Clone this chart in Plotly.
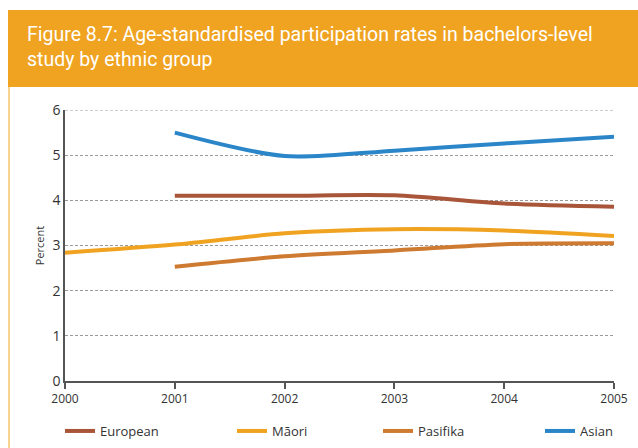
import plotly.graph_objects as go

years = [2000, 2001, 2002, 2003, 2004, 2005]
european = [None, 4.10, 4.10, 4.11, 3.93, 3.86]
maori = [2.84, 3.02, 3.27, 3.36, 3.33, 3.21]
pasifika = [None, 2.53, 2.76, 2.89, 3.03, 3.05]
asian = [None, 5.50, 4.98, 5.10, 5.26, 5.41]

names = ["European", "Māori", "Pasifika", "Asian"]
series = [european, maori, pasifika, asian]
colors = ["#A9553A", "#F0A321", "#CE7B31", "#2A86C8"]
legend_x_px = [60, 232, 378, 540]
y_max = 6

W, H = 638, 448
L, R, T, B = 65, 24, 110, 67
pw, ph = W - L - R, H - T - B

def px_x(x):
    return (x - L) / pw

def px_y(y):
    return (H - B - y) / ph

fig = go.Figure()
legend_ids = ["legend2", "legend3", "legend4", "legend5"]
for n, s, c, lid in zip(names, series, colors, legend_ids):
    fig.add_trace(go.Scatter(x=years, y=s, name=n, mode="lines", legend=lid,
                             line=dict(color=c, width=4, shape="spline", smoothing=0.8)))

shapes = [
    dict(type="rect", xref="paper", yref="paper", x0=px_x(8), x1=px_x(640),
         y0=px_y(87), y1=px_y(10), fillcolor="#EFA321", line=dict(width=0), layer="below"),
    dict(type="line", xref="paper", yref="paper", x0=px_x(9), x1=px_x(9),
         y0=px_y(87), y1=px_y(450), line=dict(color="#F6C46A", width=1.5)),
    # top gridline (Plotly omits the grid line at the range edge)
    dict(type="line", xref="paper", yref="y", x0=0, x1=1, y0=y_max, y1=y_max,
         line=dict(color="#9a9a9a", width=1, dash="3px,2px"), layer="below"),
]

legend_layout = {}
for lid, lx in zip(legend_ids, legend_x_px):
    legend_layout[lid] = dict(orientation="h", x=px_x(lx), y=px_y(431), xanchor="left", yanchor="middle",
                              font=dict(size=13, color="#333333"), bgcolor="rgba(0,0,0,0)")

fig.update_layout(
    width=W, height=H,
    margin=dict(l=L, r=R, t=T, b=B, autoexpand=False),
    paper_bgcolor="white", plot_bgcolor="white",
    font=dict(family="Open Sans", color="#333333"),
    shapes=shapes,
    annotations=[dict(text="Figure 8.7: Age-standardised participation rates in bachelors-level<br>study by ethnic group",
                      xref="paper", yref="paper", x=px_x(25), y=px_y(21), xanchor="left", yanchor="top",
                      align="left", showarrow=False,
                      font=dict(family="Roboto", size=19.5, color="white"))],
    xaxis=dict(range=[2000, 2005], tickvals=years, ticktext=[str(y) for y in years],
               showgrid=False, zeroline=False, showline=True, linecolor="#555555", linewidth=1.5,
               ticks="outside", ticklen=6, tickcolor="#555555", tickwidth=1.5,
               tickfont=dict(size=12, color="#333333")),
    yaxis=dict(range=[0, y_max], tickvals=[0, 1, 2, 3, 4, 5, 6], showgrid=True, gridcolor="#9a9a9a",
               griddash="3px,2px", gridwidth=1, zeroline=False, showline=True, linecolor="#555555",
               linewidth=1.5, ticks="", tickfont=dict(size=14, color="#333333"),
               title=dict(text="Percent", font=dict(size=11, color="#333333"), standoff=6)),
    **legend_layout,
)

fig.write_html("out.html")
